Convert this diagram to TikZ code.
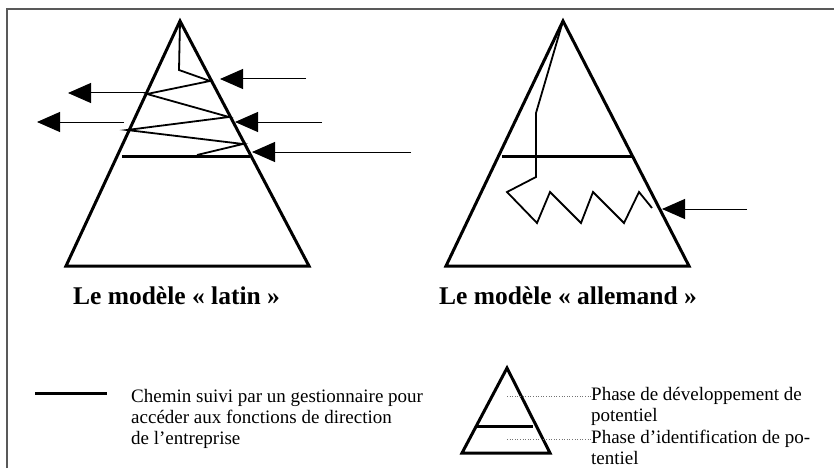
\documentclass[tikz,border=0pt]{standalone}
\usepackage{fontspec}
\setmainfont{Liberation Serif}
\usetikzlibrary{arrows.meta}
\tikzset{
  pyr/.style={line width=3pt, line join=miter},
  sep/.style={line width=3pt},
  pathline/.style={line width=1.8pt, line join=miter},
  arr/.style={line width=1pt, -{Triangle[length=23pt,width=20pt]}},
  frame/.style={line width=1.6pt, draw=black!65},
  dots/.style={line width=0.6pt, draw=black!55, dotted},
  title/.style={font=\fontsize{25.5}{28}\selectfont\bfseries, inner sep=0pt},
  legtext/.style={font=\fontsize{19}{21}\selectfont, align=left, inner sep=0pt, anchor=base west}
}
\begin{document}
\begin{tikzpicture}[x=1pt,y=-1pt]
\useasboundingbox (0,0) rectangle (834,468);
% frame
\coordinate (fA) at (7,468);
\coordinate (fB) at (7,9);
\coordinate (fC) at (834,9);
\draw[frame] (fA) -- (fB) -- (fC);

% ---- left pyramid
\coordinate (L1) at (180,21);
\coordinate (L2) at (66,266);
\coordinate (L3) at (309,266);
\draw[pyr] (L1) -- (L2) -- (L3) -- cycle;
\coordinate (Ls1) at (122,156);
\coordinate (Ls2) at (250,156);
\draw[sep] (Ls1) -- (Ls2);
\coordinate (p1) at (179,70);
\coordinate (p2) at (210,81);
\coordinate (p3) at (147,94);
\coordinate (p4) at (229,117);
\coordinate (p5) at (127,130);
\coordinate (p6) at (243,144);
\coordinate (p7) at (197,155);
\draw[pathline] (L1) -- (p1) -- (p2) -- (p3) -- (p4) -- (p5) -- (p6) -- (p7);
% arrows
\coordinate (a1s) at (306,79);  \coordinate (a1e) at (220,79);
\coordinate (a2s) at (322,122); \coordinate (a2e) at (235,122);
\coordinate (a3s) at (411,152); \coordinate (a3e) at (252,152);
\coordinate (a4s) at (146,93);  \coordinate (a4e) at (68,93);
\coordinate (a5s) at (124,122); \coordinate (a5e) at (37,122);
\draw[arr] (a1s) -- (a1e);
\draw[arr] (a2s) -- (a2e);
\draw[arr] (a3s) -- (a3e);
\draw[arr] (a4s) -- (a4e);
\draw[arr] (a5s) -- (a5e);

% ---- right pyramid
\coordinate (R1) at (563,21);
\coordinate (R2) at (446,266);
\coordinate (R3) at (689,266);
\draw[pyr] (R1) -- (R2) -- (R3) -- cycle;
\coordinate (Rs1) at (502,156);
\coordinate (Rs2) at (632,156);
\draw[sep] (Rs1) -- (Rs2);
\coordinate (q1) at (536,113);
\coordinate (q2) at (536,177);
\coordinate (q3) at (507,192);
\coordinate (q4) at (537,223);
\coordinate (q5) at (550,192);
\coordinate (q6) at (581,223);
\coordinate (q7) at (593,192);
\coordinate (q8) at (624,223);
\coordinate (q9) at (639,192);
\coordinate (q10) at (652,208);
\draw[pathline] (R1) -- (q1) -- (q2) -- (q3) -- (q4) -- (q5) -- (q6) -- (q7) -- (q8) -- (q9) -- (q10);
\coordinate (a6s) at (747,209); \coordinate (a6e) at (662,209);
\draw[arr] (a6s) -- (a6e);

% titles
\node[title] (t1) at (176.5,296) {Le modèle « latin »};
\node[title] (t2) at (568,296) {Le modèle « allemand »};

% legend
\coordinate (g1) at (35,393);
\coordinate (g2) at (107,393);
\draw[sep] (g1) -- (g2);
\node[legtext] (gt) at (131,444) {Chemin suivi par un gestionnaire pour\\accéder aux fonctions de direction\\de l’entreprise};

\coordinate (m1) at (507,368);
\coordinate (m2) at (462,453);
\coordinate (m3) at (550,453);
\draw[pyr] (m1) -- (m2) -- (m3) -- cycle;
\coordinate (ms1) at (477,426);
\coordinate (ms2) at (533,426);
\draw[sep] (ms1) -- (ms2);
\node[legtext] (ph1) at (591,421) {Phase de développement de\\potentiel};
\node[legtext] (ph2) at (591,464) {Phase d’identification de po-\\tentiel};
\coordinate (d1) at (507,396);
\coordinate (d2) at (507,439);
\coordinate (e1) at (591,396);
\coordinate (e2) at (591,439);
\draw[dots] (d1) -- (e1);
\draw[dots] (d2) -- (e2);
\end{tikzpicture}
\end{document}
